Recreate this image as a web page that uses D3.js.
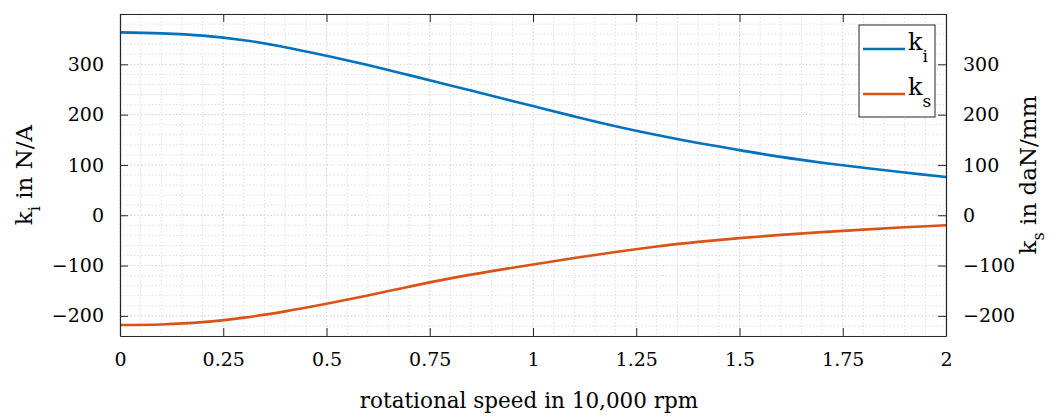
<!DOCTYPE html>
<html>
<head>
<meta charset="utf-8">
<script src="https://cdn.jsdelivr.net/npm/d3@7"></script>
<style>
  body { margin: 0; background: #fff; }
</style>
</head>
<body>
<svg id="chart"></svg>
<script>
// rotational speed in 10,000 rpm
const speed = [0, 0.1, 0.2, 0.3, 0.4, 0.5, 0.6, 0.7, 0.8, 0.9, 1.0,
  1.1, 1.2, 1.3, 1.4, 1.5, 1.6, 1.7, 1.8, 1.9, 2.0];
// k_i in N/A (left axis)
const ki = [363.5, 361.5, 357, 348, 334, 317, 298.5, 278.5, 258, 237.5, 217,
  196.5, 177, 159.5, 143.5, 129.5, 116, 104.5, 94.5, 85, 76];
// k_s in daN/mm (right axis)
const ks = [-218, -217, -212.5, -203.5, -191, -176, -159.5, -142, -125.5, -111, -98,
  -85, -73, -62, -53, -45.5, -39, -33.5, -28.5, -24, -20];

const xTicks = [0, 0.25, 0.5, 0.75, 1, 1.25, 1.5, 1.75, 2];
const yTicks = [-200, -100, 0, 100, 200, 300];
const seriesNames = ["i", "s"];
const colors = ["#0072BD", "#D95319"];

const FONT = "'DejaVu Serif', serif";

const width = 1062, height = 418;
const margin = {top: 14, right: 116, bottom: 82, left: 120};
const iw = width - margin.left - margin.right;
const ih = height - margin.top - margin.bottom;

const svg = d3.select("#chart").attr("width", width).attr("height", height)
  .style("font-family", FONT);
const g = svg.append("g").attr("transform", `translate(${margin.left},${margin.top})`);

const x = d3.scaleLinear().domain([0, 2]).range([0, iw]);
const yL = d3.scaleLinear().domain([-240, 400]).range([ih, 0]);
const yR = d3.scaleLinear().domain([-240, 400]).range([ih, 0]);

// grid (minor + major, all dotted)
const xMinor = d3.range(0, 2.0001, 0.05);
const yMinor = d3.range(-240, 400.001, 20);
const grid = g.append("g");
grid.selectAll(".gx").data(xMinor).join("line")
  .attr("x1", d => x(d)).attr("x2", d => x(d))
  .attr("y1", 0).attr("y2", ih)
  .attr("stroke", d => xTicks.some(t => Math.abs(t - d) < 1e-6) ? "#cfcfcf" : "#dedede")
  .attr("stroke-width", 1).attr("stroke-dasharray", "1.5,2");
grid.selectAll(".gy").data(yMinor).join("line")
  .attr("y1", d => yL(d)).attr("y2", d => yL(d))
  .attr("x1", 0).attr("x2", iw)
  .attr("stroke", d => yTicks.includes(d) ? "#cfcfcf" : "#dedede")
  .attr("stroke-width", 1).attr("stroke-dasharray", "1.5,2");

// lines
const lineL = d3.line().x((d, i) => x(speed[i])).y(d => yL(d)).curve(d3.curveCatmullRom);
const lineR = d3.line().x((d, i) => x(speed[i])).y(d => yR(d)).curve(d3.curveCatmullRom);
g.append("path").attr("d", lineL(ki)).attr("fill", "none")
  .attr("stroke", colors[0]).attr("stroke-width", 2.6);
g.append("path").attr("d", lineR(ks)).attr("fill", "none")
  .attr("stroke", colors[1]).attr("stroke-width", 2.6);

// axes
const tickLen = 8;
const fs = 19;
const axisB = d3.axisBottom(x).tickValues(xTicks).tickSizeInner(-tickLen).tickSizeOuter(0)
  .tickPadding(17).tickFormat(d => d3.format("~g")(d));
const axisT = d3.axisTop(x).tickValues(xTicks).tickSizeInner(-tickLen).tickSizeOuter(0)
  .tickFormat("");
const fmtY = d => (d < 0 ? "\u2212" + Math.abs(d) : d);
const axisL = d3.axisLeft(yL).tickValues(yTicks).tickSizeInner(-tickLen).tickSizeOuter(0)
  .tickPadding(16).tickFormat(fmtY);
const axisR = d3.axisRight(yR).tickValues(yTicks).tickSizeInner(-tickLen).tickSizeOuter(0)
  .tickPadding(17).tickFormat(fmtY);

function style(sel) {
  sel.attr("font-family", FONT);
  sel.select(".domain").attr("stroke", "#262626").attr("stroke-width", 1.2);
  sel.selectAll(".tick line").attr("stroke", "#262626").attr("stroke-width", 1);
  sel.selectAll(".tick text").attr("font-size", fs).attr("fill", "#000")
    .attr("font-family", FONT);
}
g.append("g").attr("transform", `translate(0,${ih})`).call(axisB).call(style);
g.append("g").call(axisT).call(style);
g.append("g").call(axisL).call(style);
g.append("g").attr("transform", `translate(${iw},0)`).call(axisR).call(style);

// axis labels
svg.append("text")
  .attr("x", margin.left + iw / 2 - 4).attr("y", 408)
  .attr("text-anchor", "middle").attr("font-size", 21.5).attr("font-family", FONT)
  .text("rotational speed in 10,000 rpm");

function yLabel(xpos, sub, rest) {
  const t = svg.append("text")
    .attr("transform", `translate(${xpos},${margin.top + ih / 2}) rotate(-90)`)
    .attr("text-anchor", "middle").attr("font-size", 23).attr("font-family", FONT);
  t.append("tspan").text("k");
  t.append("tspan").attr("font-size", 16).attr("dy", 8).text(sub);
  t.append("tspan").attr("dy", -8).text(rest);
}
yLabel(32, "i", " in N/A");
yLabel(1036, "s", " in daN/mm");

// legend
const lg = svg.append("g").attr("transform", "translate(859,25)");
lg.append("rect").attr("width", 76).attr("height", 92)
  .attr("fill", "#fff").attr("stroke", "#262626").attr("stroke-width", 1);
seriesNames.forEach((s, i) => {
  const yy = 24 + i * 45;
  lg.append("line").attr("x1", 4).attr("x2", 46).attr("y1", yy).attr("y2", yy)
    .attr("stroke", colors[i]).attr("stroke-width", 2.6);
  const t = lg.append("text").attr("x", 49).attr("y", yy + 1).attr("font-size", 24)
    .attr("font-family", FONT);
  t.append("tspan").text("k");
  t.append("tspan").attr("font-size", 17).attr("dy", 12).text(s);
});
</script>
</body>
</html>
